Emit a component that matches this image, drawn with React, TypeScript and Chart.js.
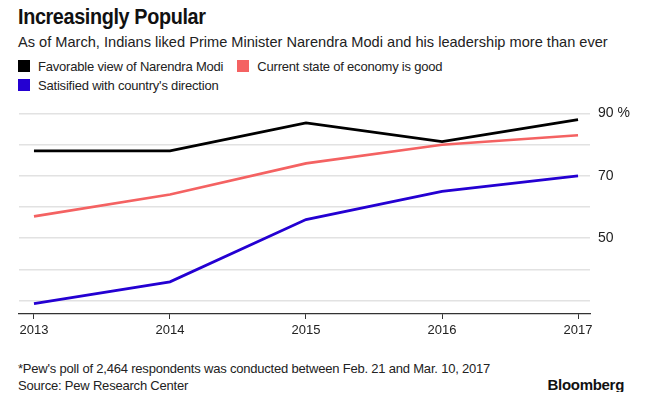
import React, { useEffect, useRef } from "react";
import { Chart, registerables } from "chart.js";

Chart.register(...registerables);

const years = [2013, 2014, 2015, 2016, 2017];
const favorableModi = [78, 78, 87, 81, 88];
const economyGood = [57, 64, 74, 80, 83];
const countryDirection = [29, 36, 56, 65, 70];
const yGridValues = [30, 40, 50, 60, 70, 80, 90];
const yLabelled: Record<number, string> = { 90: "90 %", 70: "70", 50: "50" };

const FONT = "'Liberation Sans', Arial, Helvetica, sans-serif";
const BLACK = "#000000";
const RED = "#f46262";
const BLUE = "#2400d2";

export default function App() {
  const ref = useRef<HTMLCanvasElement | null>(null);

  useEffect(() => {
    if (!ref.current) return;
    const toPts = (arr: number[]) => years.map((x, i) => ({ x, y: arr[i] }));
    const chart = new Chart(ref.current, {
      type: "line",
      data: {
        datasets: [
          { label: "Favorable view of Narendra Modi", data: toPts(favorableModi), borderColor: BLACK, backgroundColor: BLACK, borderWidth: 2.8, pointRadius: 0, tension: 0 },
          { label: "Current state of economy is good", data: toPts(economyGood), borderColor: RED, backgroundColor: RED, borderWidth: 2.6, pointRadius: 0, tension: 0 },
          { label: "Satisified with country's direction", data: toPts(countryDirection), borderColor: BLUE, backgroundColor: BLUE, borderWidth: 2.8, pointRadius: 0, tension: 0 },
        ],
      },
      options: {
        animation: false,
        responsive: false,
        maintainAspectRatio: false,
        layout: { padding: { left: 19, top: 13.5, right: 0, bottom: 0 } },
        plugins: { legend: { display: false }, tooltip: { enabled: false }, title: { display: false } },
        scales: {
          x: {
            type: "linear",
            min: 2012.89,
            max: 2017.088,
            afterBuildTicks: (s: any) => { s.ticks = years.map((v) => ({ value: v })); },
            afterFit: (s: any) => { s.height = 36; s.paddingLeft = 0; s.paddingRight = 0; },
            grid: { drawOnChartArea: false, drawTicks: true, tickLength: 5, tickColor: "#333", lineWidth: 1 },
            border: { display: true, color: "#333", width: 1.2 },
            ticks: { color: "#222", font: { family: FONT, size: 13 }, padding: 4, maxRotation: 0, callback: (v: any) => String(v) },
          },
          y: {
            position: "right",
            min: 25.7,
            max: 90,
            afterBuildTicks: (s: any) => { s.ticks = yGridValues.map((v) => ({ value: v })); },
            afterFit: (s: any) => { s.width = 60; s.paddingTop = 0; s.paddingBottom = 0; },
            grid: { color: "#e2e2e2", lineWidth: 1.5, drawTicks: false },
            border: { display: false },
            ticks: { color: "#222", font: { family: FONT, size: 14 }, padding: 8, callback: (v: any) => yLabelled[v] ?? "" },
          },
        },
      },
    });
    return () => chart.destroy();
  }, []);

  const sq = (c: string) => (
    <span style={{ display: "inline-block", width: 12, height: 12, background: c, marginRight: 8, verticalAlign: "-1px" }} />
  );

  return (
    <div style={{ position: "relative", width: 650, height: 400, margin: -8, background: "#fff", fontFamily: FONT, color: "#111" }}>
      <div style={{ position: "absolute", left: 18, top: 4, fontSize: 22, fontWeight: "bold", letterSpacing: -0.4, transform: "scaleX(0.9)", transformOrigin: "left top", whiteSpace: "nowrap" }}>Increasingly Popular</div>
      <div style={{ position: "absolute", left: 18, top: 34, fontSize: 14.6, color: "#222", whiteSpace: "nowrap" }}>
        As of March, Indians liked Prime Minister Narendra Modi and his leadership more than ever
      </div>
      <div style={{ position: "absolute", left: 18, top: 59, fontSize: 13, letterSpacing: -0.2, color: "#222", whiteSpace: "nowrap" }}>
        {sq(BLACK)}Favorable view of Narendra Modi
        <span style={{ display: "inline-block", width: 14 }} />
        {sq(RED)}Current state of economy is good
      </div>
      <div style={{ position: "absolute", left: 18, top: 78, fontSize: 13, letterSpacing: -0.2, color: "#222", whiteSpace: "nowrap" }}>
        {sq(BLUE)}Satisified with country's direction
      </div>
      <canvas ref={ref} width={650} height={250} style={{ position: "absolute", left: 0, top: 100, width: 650, height: 250 }} />
      <div style={{ position: "absolute", left: 18, top: 361, fontSize: 13, letterSpacing: -0.2, color: "#222", whiteSpace: "nowrap" }}>
        *Pew's poll of 2,464 respondents was conducted between Feb. 21 and Mar. 10, 2017
      </div>
      <div style={{ position: "absolute", left: 18, top: 378, fontSize: 13, letterSpacing: -0.2, color: "#222", whiteSpace: "nowrap" }}>Source: Pew Research Center</div>
      <div style={{ position: "absolute", right: 26, top: 376, fontSize: 15, lineHeight: "18px", fontWeight: "bold", color: "#111", letterSpacing: -0.3 }}>Bloomberg</div>
    </div>
  );
}
